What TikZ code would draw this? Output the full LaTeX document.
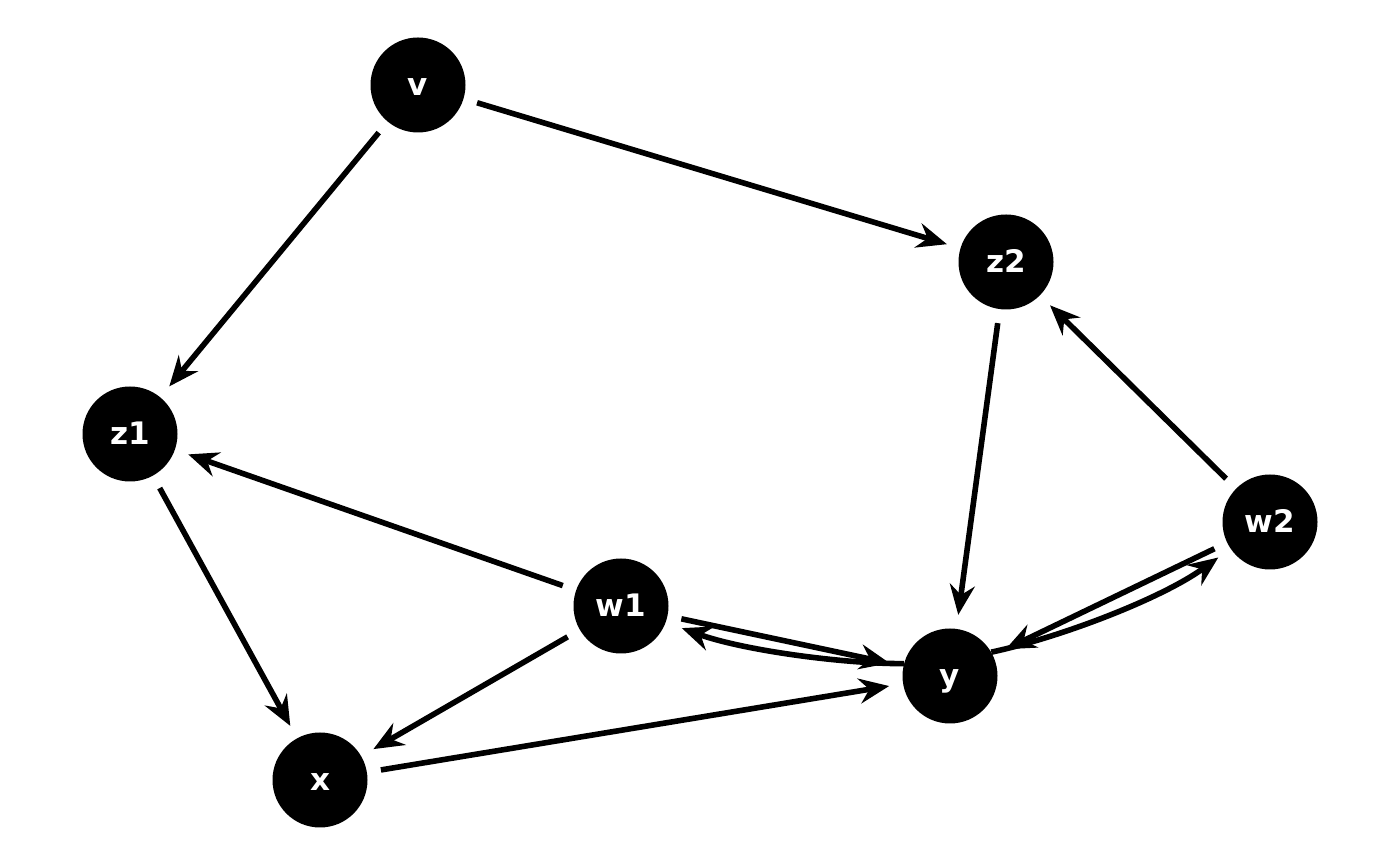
\documentclass[tikz,border=0pt]{standalone}
\usepackage{fontspec}
\setmainfont{DejaVu Sans}
\usetikzlibrary{arrows.meta}
\begin{document}
\begin{tikzpicture}[x=1pt,y=1pt,
  dagnode/.style={circle,fill=black,minimum size=95pt,inner sep=0pt,
    text height=21.6pt,text depth=0pt,
    text=white,font=\fontsize{31}{35}\selectfont\bfseries},
  edge/.style={line width=5.6pt,-{Stealth[length=30pt,width=25pt,inset=10pt]},
    shorten <=14pt,shorten >=14pt}]
\useasboundingbox (0,0) rectangle (1400,866);
\node[dagnode] (v)  at (418,781) {v};
\node[dagnode] (z2) at (1006,604) {z2};
\node[dagnode] (z1) at (130,432) {z1};
\node[dagnode] (w2) at (1270,344) {w2};
\node[dagnode] (w1) at (621,260) {w1};
\node[dagnode] (y)  at (950,190) {y};
\node[dagnode] (x)  at (320,86) {x};
\draw[edge] (v) -- (z1);
\draw[edge] (v) -- (z2);
\draw[edge] (z2) -- (y);
\draw[edge] (w2) -- (z2);
\draw[edge] (z1) -- (x);
\draw[edge] (w1) -- (z1);
\draw[edge] (w1) -- (x);
\draw[edge] (x) -- (y);
\draw[edge] (w1) -- (y);
\draw[edge] (w2) -- (y);
\draw[edge,shorten <=0pt,shorten >=17pt] (y.165) .. controls +(180:65) and +(-20:80) .. (w1.-20);
\draw[edge,shorten <=0pt,shorten >=15pt] (y.30) .. controls +(12:70) and +(216:85) .. (w2.214.5);
\end{tikzpicture}
\end{document}
